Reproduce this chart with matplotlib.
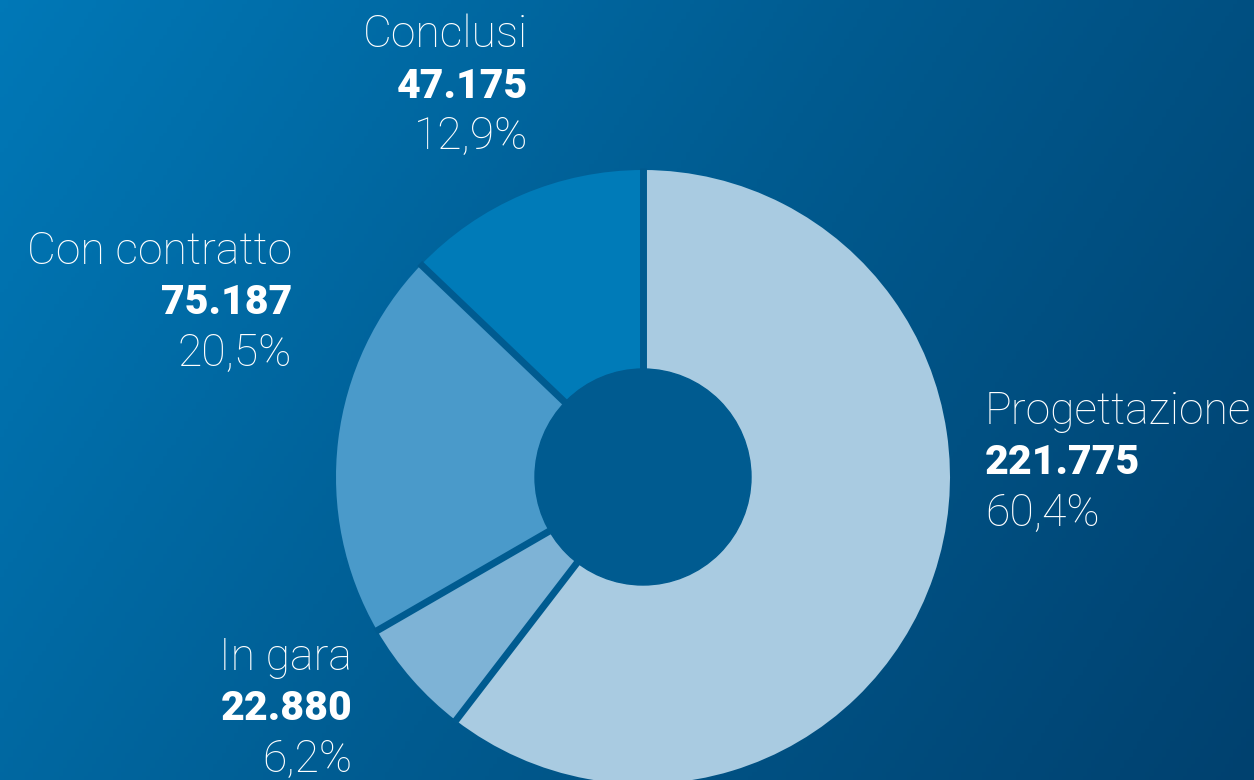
import numpy as np
import matplotlib.pyplot as plt
from matplotlib.colors import LinearSegmentedColormap

# dati
categorie = ['Progettazione', 'In gara', 'Con contratto', 'Conclusi']
valori = [221775, 22880, 75187, 47175]
valori_txt = ['221.775', '22.880', '75.187', '47.175']
percentuali = ['60,4%', '6,2%', '20,5%', '12,9%']
colori = ['#a9cbe1', '#7eb3d6', '#4a9aca', '#007bb8']

W, H = 1254, 780
fig = plt.figure(figsize=(W / 100, H / 100), dpi=100)
ax = fig.add_axes([0, 0, 1, 1])

# sfondo sfumato in diagonale (chiaro in alto a sinistra, scuro in basso a destra)
xx, yy = np.meshgrid(np.linspace(0, 1, 300), np.linspace(0, 1, 200))
t = xx * 0.72 + yy * 0.28
cmap_bg = LinearSegmentedColormap.from_list('bg', ['#0078b7', '#005b90', '#00416f'])
ax.imshow(t, cmap=cmap_bg, extent=(0, W, 0, H), aspect='auto', zorder=0, origin='upper')

# ciambella
cx, cy = 643, H - 477
r_out, r_in = 307, 108
buco = '#005b90'
ax.pie(valori, colors=colori, startangle=90, counterclock=False,
       center=(cx, cy), radius=r_out, frame=True,
       wedgeprops=dict(linewidth=0, zorder=2))

# separatori radiali tra gli spicchi
cum = np.cumsum([0] + valori) / sum(valori)
for f in cum[:-1]:
    ang = np.deg2rad(90 - 360 * f)
    ax.plot([cx + r_in * np.cos(ang), cx + (r_out + 2) * np.cos(ang)],
            [cy + r_in * np.sin(ang), cy + (r_out + 2) * np.sin(ang)],
            color=buco, lw=5, solid_capstyle='butt', zorder=3)
ax.add_patch(plt.Circle((cx, cy), r_in, color=buco, zorder=4))

# etichette: (x, y centro prima riga, allineamento)
pos = [(985, 412, 'left'), (352, 658, 'right'), (292, 252, 'right'), (528, 35, 'right')]
font = 'Roboto'
for i, (x, y, ha) in enumerate(pos):
    ax.text(x, H - y, categorie[i], ha=ha, va='center', color='white',
            fontsize=32, family=font, fontweight='light')
    ax.text(x, H - y - 51, valori_txt[i], ha=ha, va='center', color='white',
            fontsize=29.5, family=font, fontweight='heavy')
    ax.text(x, H - y - 102, percentuali[i], ha=ha, va='center', color='white',
            fontsize=32, family=font, fontweight='light')

ax.set_xlim(0, W)
ax.set_ylim(0, H)
ax.set_aspect('equal')
ax.axis('off')

fig.savefig('out.png', dpi=100)
